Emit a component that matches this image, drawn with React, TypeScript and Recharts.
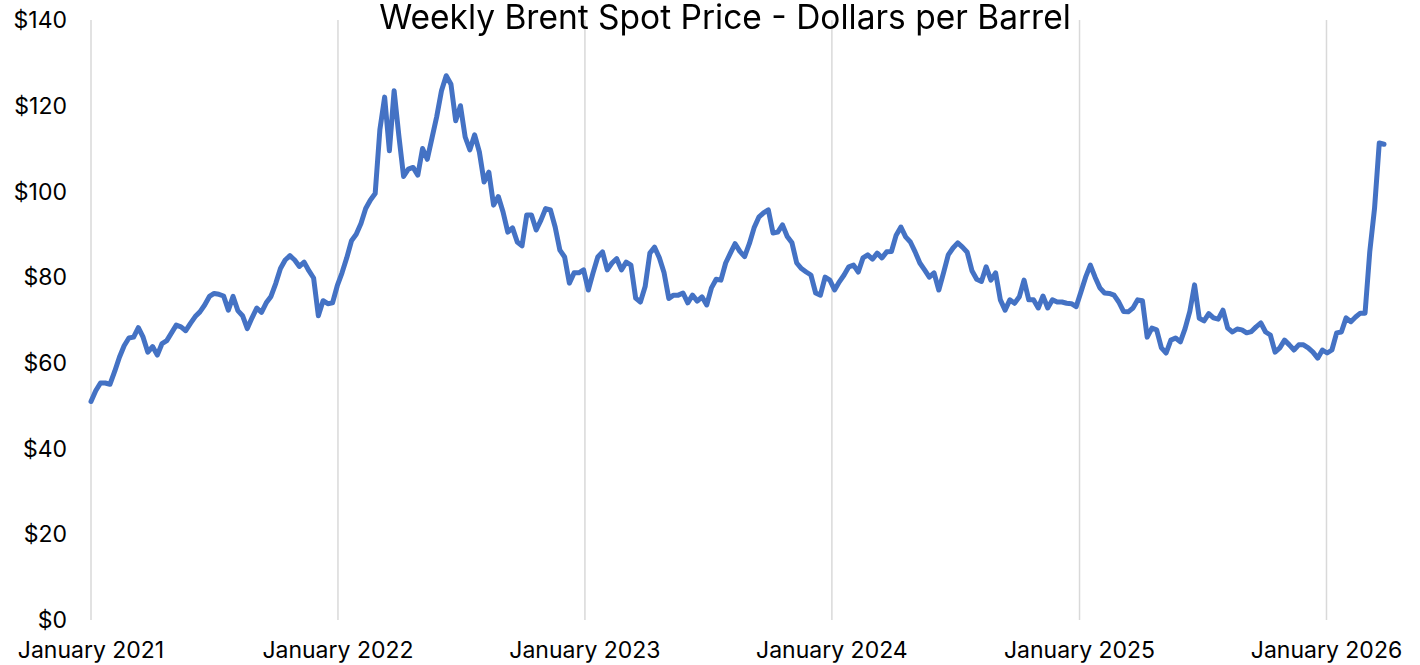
import { LineChart, Line, XAxis, YAxis, ReferenceLine } from "recharts";

// weekly Brent spot, $/bbl, week ending Friday starting 2021-01-01
const prices2021 = [
  51, 53.5, 55.3, 55.3, 55, 58, 61.3, 64, 65.8, 66, 68.2, 66, 62.5, 63.8, 61.8, 64.5, 65.2, 67,
  68.8, 68.4, 67.5, 69.2, 70.8, 71.9, 73.5, 75.5, 76.2, 76, 75.6, 72.3, 75.5, 72.2, 71, 68, 70.5,
  72.8, 71.8, 74, 75.5, 78.5, 82, 84, 85, 84, 82.5, 83.5, 81.5, 79.8, 71, 74.5, 73.8, 74, 78,
];
const prices2022 = [
  81, 84.5, 88.5, 90, 92.5, 96, 98, 99.5, 114.5, 122, 109.5, 123.5, 113, 103.5, 105.2, 105.6,
  103.8, 110, 107.5, 112.5, 117.5, 123.5, 127, 125, 116.5, 120, 112.7, 109.7, 113.2, 109.2, 102.2,
  104.5, 96.8, 98.8, 95.2, 90.5, 91.5, 88.2, 87.3, 94.5, 94.5, 91, 93.3, 96, 95.7, 91.7, 86.3,
  84.7, 78.6, 81, 81, 81.7,
];
const prices2023 = [
  77, 81, 84.7, 85.9, 81.7, 83.3, 84.3, 81.7, 83.5, 82.8, 75.1, 74.2, 77.8, 85.6, 87, 84.5, 81,
  75, 75.8, 75.8, 76.3, 74, 75.8, 74.4, 75.4, 73.5, 77.5, 79.5, 79.3, 83.3, 85.6, 87.8, 86, 84.8,
  87.8, 91.5, 94, 95, 95.7, 90.3, 90.5, 92.2, 89.5, 88, 83.3, 82, 81.2, 80.5, 76.3, 75.8, 80, 79.3,
];
const prices2024 = [
  77, 78.9, 80.5, 82.4, 82.8, 81.2, 84.5, 85.2, 84.2, 85.6, 84.5, 85.9, 86, 89.8, 91.7, 89.4,
  88.2, 85.9, 83.3, 81.7, 80, 81, 77, 81, 85.2, 86.8, 88, 87, 85.8, 81.5, 79.5, 79, 82.4, 79.3,
  81, 74.7, 72.3, 74.7, 73.9, 75.4, 79.3, 74.7, 74.7, 72.8, 75.6, 72.8, 74.7, 74.2, 74.2, 73.9,
  73.8, 73.1,
];
const prices2025 = [
  76.5, 80, 82.8, 80, 77.5, 76.3, 76.2, 75.8, 74.2, 72, 71.9, 72.8, 74.7, 74.5, 66, 68.1, 67.7,
  63.5, 62.3, 65.3, 65.8, 64.9, 68, 72, 78.2, 70.4, 69.8, 71.5, 70.5, 70.2, 72.3, 68.1, 67.2,
  67.9, 67.7, 67, 67.3, 68.4, 69.3, 67.2, 66.5, 62.5, 63.5, 65.3, 64.2, 63, 64.2, 64.2, 63.5,
  62.5, 61.1, 63,
];
const prices2026 = [62.3, 63, 67, 67.2, 70.5, 69.6, 70.7, 71.6, 71.6, 86, 96, 111.3, 111];

const years = [2021, 2022, 2023, 2024, 2025, 2026];
const yTicks = [0, 20, 40, 60, 80, 100, 120, 140];

const DAY = 86400000;
const start = Date.UTC(2021, 0, 1);
const prices = [...prices2021, ...prices2022, ...prices2023, ...prices2024, ...prices2025, ...prices2026];
const data = prices.map((price, i) => ({ t: start + i * 7 * DAY, price }));
const yearTicks = years.map((y) => Date.UTC(y, 0, 1));

const FONT = "Inter, 'Noto Sans', sans-serif";

export default function App() {
  return (
    <div style={{ position: "fixed", left: 0, top: 0, width: 1420, height: 665, background: "#fff", fontFamily: FONT }}>
      <LineChart width={1420} height={665} data={data} margin={{ top: 20, right: 36, bottom: 0, left: 0 }}>
        <XAxis
          dataKey="t"
          type="number"
          domain={[data[0].t, data[data.length - 1].t]}
          ticks={yearTicks}
          interval={0}
          tickFormatter={(v: number) => `January ${new Date(v).getUTCFullYear()}`}
          height={45}
          tickSize={0}
          tickMargin={22}
          axisLine={false}
          tick={{ fontSize: 23, fill: "#000", fontFamily: FONT }}
        />
        <YAxis
          domain={[0, 140]}
          ticks={yTicks}
          width={91}
          tickSize={0}
          tickMargin={24}
          axisLine={false}
          tickFormatter={(v: number) => `$${v}`}
          tick={{ fontSize: 23, fill: "#000", fontFamily: FONT }}
        />
        {yearTicks.map((t) => (
          <ReferenceLine key={t} x={t} stroke="#d9d9d9" strokeWidth={1.5} />
        ))}
        <Line
          dataKey="price"
          stroke="#4472C4"
          strokeWidth={5}
          strokeLinejoin="round"
          strokeLinecap="round"
          dot={false}
          isAnimationActive={false}
        />
      </LineChart>
      <div
        style={{
          position: "absolute",
          left: 0,
          top: 0,
          width: 1450,
          textAlign: "center",
          fontSize: 33.5,
          lineHeight: "34px",
          color: "#000",
        }}
      >
        Weekly Brent Spot Price - Dollars per Barrel
      </div>
    </div>
  );
}
